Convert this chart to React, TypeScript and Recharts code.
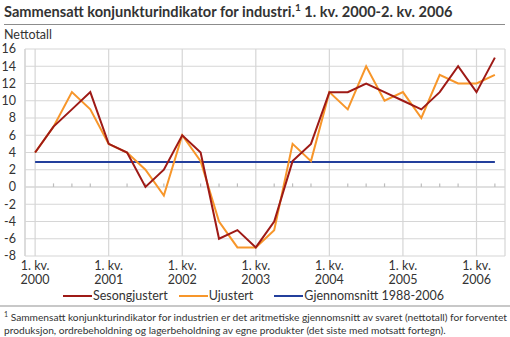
import React from 'react';
import {
  LineChart,
  Line,
  XAxis,
  YAxis,
  CartesianGrid,
  ReferenceLine,
} from 'recharts';

const quarters = [
  '2000K1', '2000K2', '2000K3', '2000K4',
  '2001K1', '2001K2', '2001K3', '2001K4',
  '2002K1', '2002K2', '2002K3', '2002K4',
  '2003K1', '2003K2', '2003K3', '2003K4',
  '2004K1', '2004K2', '2004K3', '2004K4',
  '2005K1', '2005K2', '2005K3', '2005K4',
  '2006K1', '2006K2',
];

const sesongjustert = [
  4, 7, 9, 11,
  5, 4, 0, 2,
  6, 4, -6, -5,
  -7, -4, 3, 5,
  11, 11, 12, 11,
  10, 9, 11, 14,
  11, 15,
];

const ujustert = [
  4, 7, 11, 9,
  5, 4, 2, -1,
  6, 3, -4, -7,
  -7, -5, 5, 3,
  11, 9, 14, 10,
  11, 8, 13, 12,
  12, 13,
];

// average 1988-2006
const gjennomsnitt = 2.9;

const years = ['2000', '2001', '2002', '2003', '2004', '2005', '2006'];
const yearTicks = [0, 4, 8, 12, 16, 20, 24];
const yTicks = [-8, -6, -4, -2, 0, 2, 4, 6, 8, 10, 12, 14, 16];

const data = quarters.map((q, i) => ({
  idx: i,
  quarter: q,
  sesong: sesongjustert[i],
  ujustert: ujustert[i],
  snitt: gjennomsnitt,
}));

const FONT = 'Lato, "Open Sans", sans-serif';
const TEXT = '#333333';
const GRID = '#d6d6d6';
const RED = '#9e1a16';
const ORANGE = '#f7962a';
const BLUE = '#233f9c';

const series = [
  { key: 'sesong', name: 'Sesongjustert', color: RED, gap: 11 },
  { key: 'ujustert', name: 'Ujustert', color: ORANGE, gap: 21 },
  { key: 'snitt', name: 'Gjennomsnitt 1988-2006', color: BLUE, gap: 0 },
];

function YearTick({ x, y, payload }: any) {
  const label = years[yearTicks.indexOf(payload.value)];
  return (
    <text x={x} y={y} textAnchor="middle" fill={TEXT} fontSize={12.5} fontFamily={FONT}>
      <tspan x={x} dy={6}>1. kv.</tspan>
      <tspan x={x} dy={14}>{label}</tspan>
    </text>
  );
}

export default function App() {
  return (
    <div style={{ position: 'absolute', left: 0, top: 0, width: 510, height: 337, background: '#fff', fontFamily: FONT, color: TEXT }}>
      <div style={{ position: 'absolute', left: 4, top: 3, fontSize: 14.6, fontWeight: 700, whiteSpace: 'nowrap' }}>
        Sammensatt konjunkturindikator for industri.<sup style={{ fontSize: 10, verticalAlign: 'top', position: 'relative', top: -2 }}>1</sup> 1. kv. 2000-2. kv. 2006
      </div>
      <div style={{ position: 'absolute', left: 4, top: 24, width: 501, height: 1, background: '#8c8c8c' }} />
      <div style={{ position: 'absolute', left: 4, top: 27, fontSize: 12.5 }}>Nettotall</div>

      <div style={{ position: 'absolute', left: 0, top: 0 }}>
        <LineChart width={510} height={300} data={data} margin={{ top: 49, right: 5, bottom: 10, left: 0 }}>
          <CartesianGrid stroke={GRID} strokeWidth={1.2} />
          <XAxis
            dataKey="idx"
            type="number"
            domain={[-0.55, 25.55]}
            ticks={yearTicks}
            interval={0}
            axisLine={false}
            tickLine={false}
            tick={<YearTick />}
            height={34}
          />
          <YAxis
            domain={[-8, 16]}
            ticks={yTicks}
            interval={0}
            width={25}
            axisLine={{ stroke: GRID, strokeWidth: 1.2 }}
            tickLine={false}
            tickMargin={3}
            tick={{ fill: TEXT, fontSize: 12.5, fontFamily: FONT }}
          />
          <ReferenceLine y={0} stroke={GRID} strokeWidth={1.2} />
          {quarters.map((q, i) =>
            i % 4 === 0 ? null : (
              <ReferenceLine
                key={q}
                segment={[{ x: i, y: 0 }, { x: i, y: 0.42 }]}
                stroke="#bdbdbd"
                strokeWidth={1.2}
              />
            )
          )}
          <Line dataKey="snitt" name="Gjennomsnitt 1988-2006" stroke={BLUE} strokeWidth={2} dot={false} isAnimationActive={false} />
          <Line dataKey="ujustert" name="Ujustert" stroke={ORANGE} strokeWidth={2} dot={false} isAnimationActive={false} />
          <Line dataKey="sesong" name="Sesongjustert" stroke={RED} strokeWidth={2} dot={false} isAnimationActive={false} />
        </LineChart>
      </div>

      <div style={{ position: 'absolute', left: 63, top: 288, display: 'flex', alignItems: 'center', fontSize: 12.5, lineHeight: '16px', whiteSpace: 'nowrap' }}>
        {series.map((s) => (
          <div key={s.key} style={{ display: 'flex', alignItems: 'center', marginRight: s.gap }}>
            <svg width={29} height={4} style={{ display: 'block' }}>
              <line x1={0} y1={2} x2={29} y2={2} stroke={s.color} strokeWidth={2} />
            </svg>
            <span style={{ marginLeft: 1 }}>{s.name}</span>
          </div>
        ))}
      </div>

      <div style={{ position: 'absolute', left: 0, top: 305, width: 510, height: 2, background: '#c8c8c8' }} />
      <div style={{ position: 'absolute', left: 4, top: 311, fontSize: 10.2, lineHeight: '13px', whiteSpace: 'nowrap' }}>
        <div>
          <sup style={{ fontSize: 7, lineHeight: 0 }}>1</sup> Sammensatt konjunkturindikator for industrien er det aritmetiske gjennomsnitt av svaret (nettotall) for forventet
        </div>
        <div>produksjon, ordrebeholdning og lagerbeholdning av egne produkter (det siste med motsatt fortegn).</div>
      </div>
    </div>
  );
}
